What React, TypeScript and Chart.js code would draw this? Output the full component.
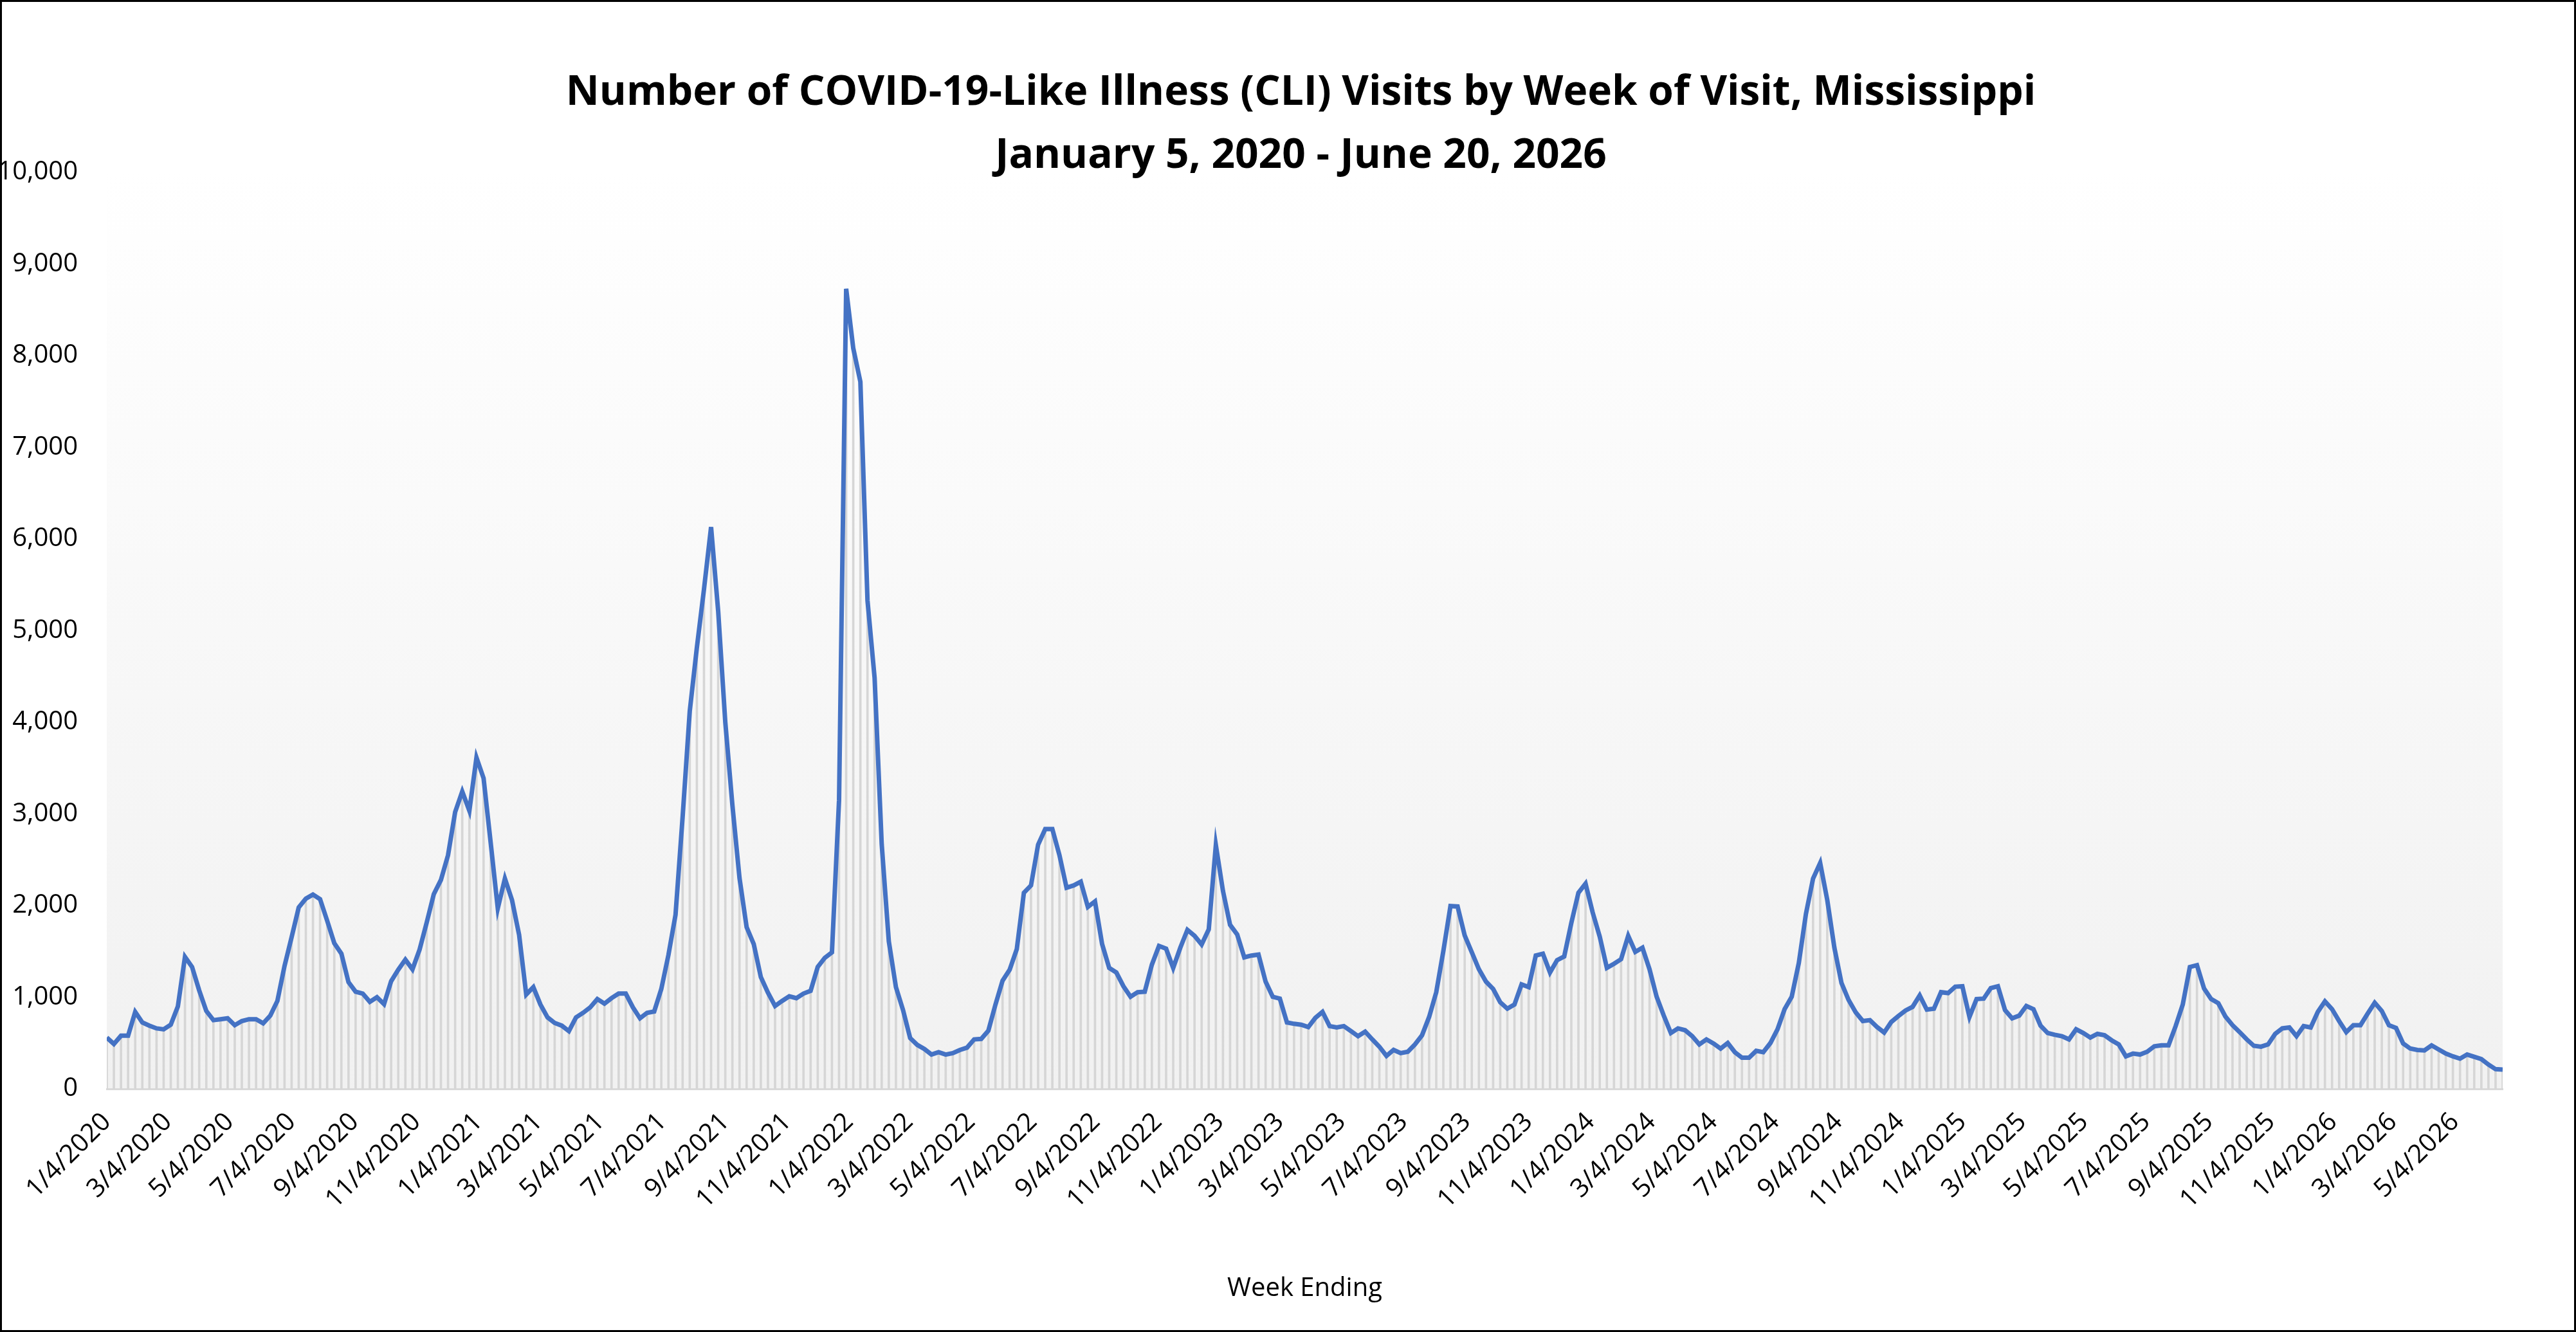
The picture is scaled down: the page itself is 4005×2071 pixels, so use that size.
import React, { useEffect, useRef } from "react";
import { Chart, registerables } from "chart.js";
Chart.register(...registerables);

const titleLines = [
  "Number of COVID-19-Like Illness (CLI) Visits by Week of Visit, Mississippi",
  "January 5, 2020 - June 20, 2026",
];
const xAxisTitle = "Week Ending";
const firstWeek = "2020-01-04";
const yTicks = [0, 1000, 2000, 3000, 4000, 5000, 6000, 7000, 8000, 9000, 10000];

const visits2020 = [
  560, 490, 580, 580, 840, 725, 690, 660, 650, 700, 900, 1440, 1330, 1075, 850, 750, 760, 770, 695, 740,
  760, 760, 715, 800, 960, 1340, 1655, 1980, 2075, 2120, 2070, 1835, 1590, 1475, 1165, 1060, 1040, 950, 1000, 925,
  1175, 1300, 1410, 1305, 1520, 1815, 2125, 2280, 2550, 3020, 3245, 3035,
];
const visits2021 = [
  3615, 3390, 2685, 1970, 2295, 2060, 1680, 1030, 1110, 920, 780, 720, 690, 630, 780, 830, 890, 980, 930, 990,
  1040, 1040, 890, 770, 830, 845, 1090, 1460, 1900, 2970, 4120, 4815, 5450, 6130, 5210, 4000, 3095, 2300, 1765, 1580,
  1220, 1050, 905, 960, 1010, 990, 1040, 1070, 1330, 1430, 1490, 3150,
];
const visits2022 = [
  8730, 8080, 7715, 5330, 4485, 2670, 1610, 1110, 860, 555, 480, 435, 375, 400, 375, 390, 425, 450, 540, 545,
  635, 920, 1180, 1300, 1525, 2140, 2220, 2665, 2835, 2835, 2550, 2195, 2220, 2260, 1985, 2045, 1580, 1320, 1270, 1120,
  1005, 1055, 1060, 1355, 1560, 1530, 1320, 1540, 1735, 1670, 1575, 1740,
];
const visits2023 = [
  2660, 2160, 1790, 1685, 1435, 1455, 1465, 1170, 1005, 985, 725, 710, 700, 675, 775, 840, 685, 670, 685, 630,
  575, 625, 540, 460, 360, 425, 390, 405, 485, 585, 785, 1055, 1505, 1995, 1990, 1675, 1490, 1305, 1170, 1090,
  945, 875, 920, 1140, 1110, 1455, 1475, 1270, 1405, 1445, 1810, 2140,
];
const visits2024 = [
  2240, 1925, 1660, 1320, 1365, 1415, 1670, 1495, 1540, 1305, 1005, 800, 610, 660, 640, 575, 485, 540, 495, 440,
  500, 400, 340, 340, 415, 400, 500, 650, 870, 1005, 1375, 1910, 2295, 2465, 2060, 1540, 1155, 970, 835, 740,
  750, 675, 615, 730, 795, 855, 895, 1020, 865, 875, 1055, 1045,
];
const visits2025 = [
  1115, 1120, 785, 980, 985, 1100, 1120, 860, 770, 800, 905, 870, 690, 610, 590, 575, 540, 650, 610, 560,
  600, 585, 530, 485, 355, 385, 375, 405, 465, 475, 475, 685, 920, 1330, 1350, 1095, 980, 935, 790, 695,
  620, 540, 470, 460, 485, 600, 660, 670, 575, 685, 670, 840,
];
const visits2026 = [
  955, 870, 740, 620, 695, 695, 820, 940, 850, 695, 665, 495, 440, 425, 420, 475, 430, 385, 355, 330,
  375, 350, 325, 265, 215, 210,
];

const visits = [
  ...visits2020, ...visits2021, ...visits2022, ...visits2023, ...visits2024, ...visits2025, ...visits2026,
];

const DAY = 86400000;
const start = Date.parse(firstWeek + "T00:00:00Z");
const dayNum = (t: number) => Math.round((t - start) / DAY);
const points = visits.map((v, i) => ({ x: i * 7, y: v }));
const lastDay = (visits.length - 1) * 7;

const monthTicks: number[] = [];
for (let m = 0; ; m += 2) {
  const t = Date.UTC(2020, m, 4);
  const d = dayNum(t);
  if (d > lastDay) break;
  monthTicks.push(d);
}
const fmt = (d: number) => {
  const dt = new Date(start + d * DAY);
  return `${dt.getUTCMonth() + 1}/${dt.getUTCDate()}/${dt.getUTCFullYear()}`;
};

const FONT = "'Open Sans', 'Noto Sans', sans-serif";

export default function App() {
  const ref = useRef<HTMLCanvasElement | null>(null);
  useEffect(() => {
    if (!ref.current) return;
    const bgPlugin = {
      id: "bg",
      beforeDraw(chart: any) {
        const { ctx, chartArea: a } = chart;
        const g = ctx.createLinearGradient(0, a.top, 0, a.bottom);
        g.addColorStop(0, "#ffffff");
        g.addColorStop(1, "#f1f1f1");
        ctx.save();
        ctx.fillStyle = g;
        ctx.fillRect(a.left, a.top, a.right - a.left, a.bottom - a.top);
        ctx.restore();
      },
      afterDraw(chart: any) {
        const { ctx } = chart;
        ctx.save();
        ctx.fillStyle = "#000";
        ctx.font = `bold 64px ${FONT}`;
        ctx.textAlign = "center";
        ctx.textBaseline = "middle";
        const cx = chart.width / 2 + 20;
        ctx.fillText(titleLines[0], cx, 142);
        ctx.fillText(titleLines[1], cx, 240);
        ctx.restore();
      },
    };
    const chart = new Chart(ref.current, {
      type: "bar",
      data: {
        datasets: [
          {
            type: "line",
            data: points,
            borderColor: "#4472C4",
            borderWidth: 7,
            pointRadius: 0,
            tension: 0,
            order: 0,
          } as any,
          {
            type: "bar",
            data: points,
            backgroundColor: "#d6d6d6",
            barThickness: 3,
            grouped: false,
            order: 1,
          } as any,
        ],
      },
      options: {
        animation: false,
        responsive: false,
        layout: { padding: { top: 265, right: 111, left: 0, bottom: 0 } },
        plugins: { legend: { display: false }, tooltip: { enabled: false }, title: { display: false } },
        scales: {
          x: {
            type: "linear",
            min: 0,
            max: lastDay,
            offset: false,
            grid: { display: false },
            border: { display: true, color: "#d9d9d9", width: 3 },
            afterBuildTicks: (s: any) => {
              s.ticks = monthTicks.map((v) => ({ value: v }));
            },
            afterFit: (s: any) => {
              s.height = 375;
            },
            ticks: {
              autoSkip: false,
              minRotation: 45,
              maxRotation: 45,
              padding: 20,
              color: "#000",
              font: { size: 40, family: FONT },
              callback: (v: any) => fmt(Number(v)),
            },
            title: {
              display: true,
              text: xAxisTitle,
              color: "#000",
              font: { size: 40, family: FONT },
              padding: { top: 0, bottom: 40 },
            },
          },
          y: {
            min: 0,
            max: 10000,
            grid: { display: false, drawTicks: false },
            border: { display: false },
            afterBuildTicks: (s: any) => {
              s.ticks = yTicks.map((v) => ({ value: v }));
            },
            afterFit: (s: any) => {
              s.width = 163;
            },
            ticks: {
              padding: 45,
              color: "#000",
              font: { size: 40, family: FONT },
            },
          },
        },
      },
      plugins: [bgPlugin],
    } as any);
    return () => chart.destroy();
  }, []);
  return (
    <div
      style={{
        position: "fixed",
        left: 0,
        top: 0,
        width: 4005,
        height: 2071,
        border: "3px solid #000",
        boxSizing: "border-box",
        background: "#fff",
      }}
    >
      <canvas ref={ref} width={3999} height={2065} style={{ display: "block", width: 3999, height: 2065 }} />
    </div>
  );
}
